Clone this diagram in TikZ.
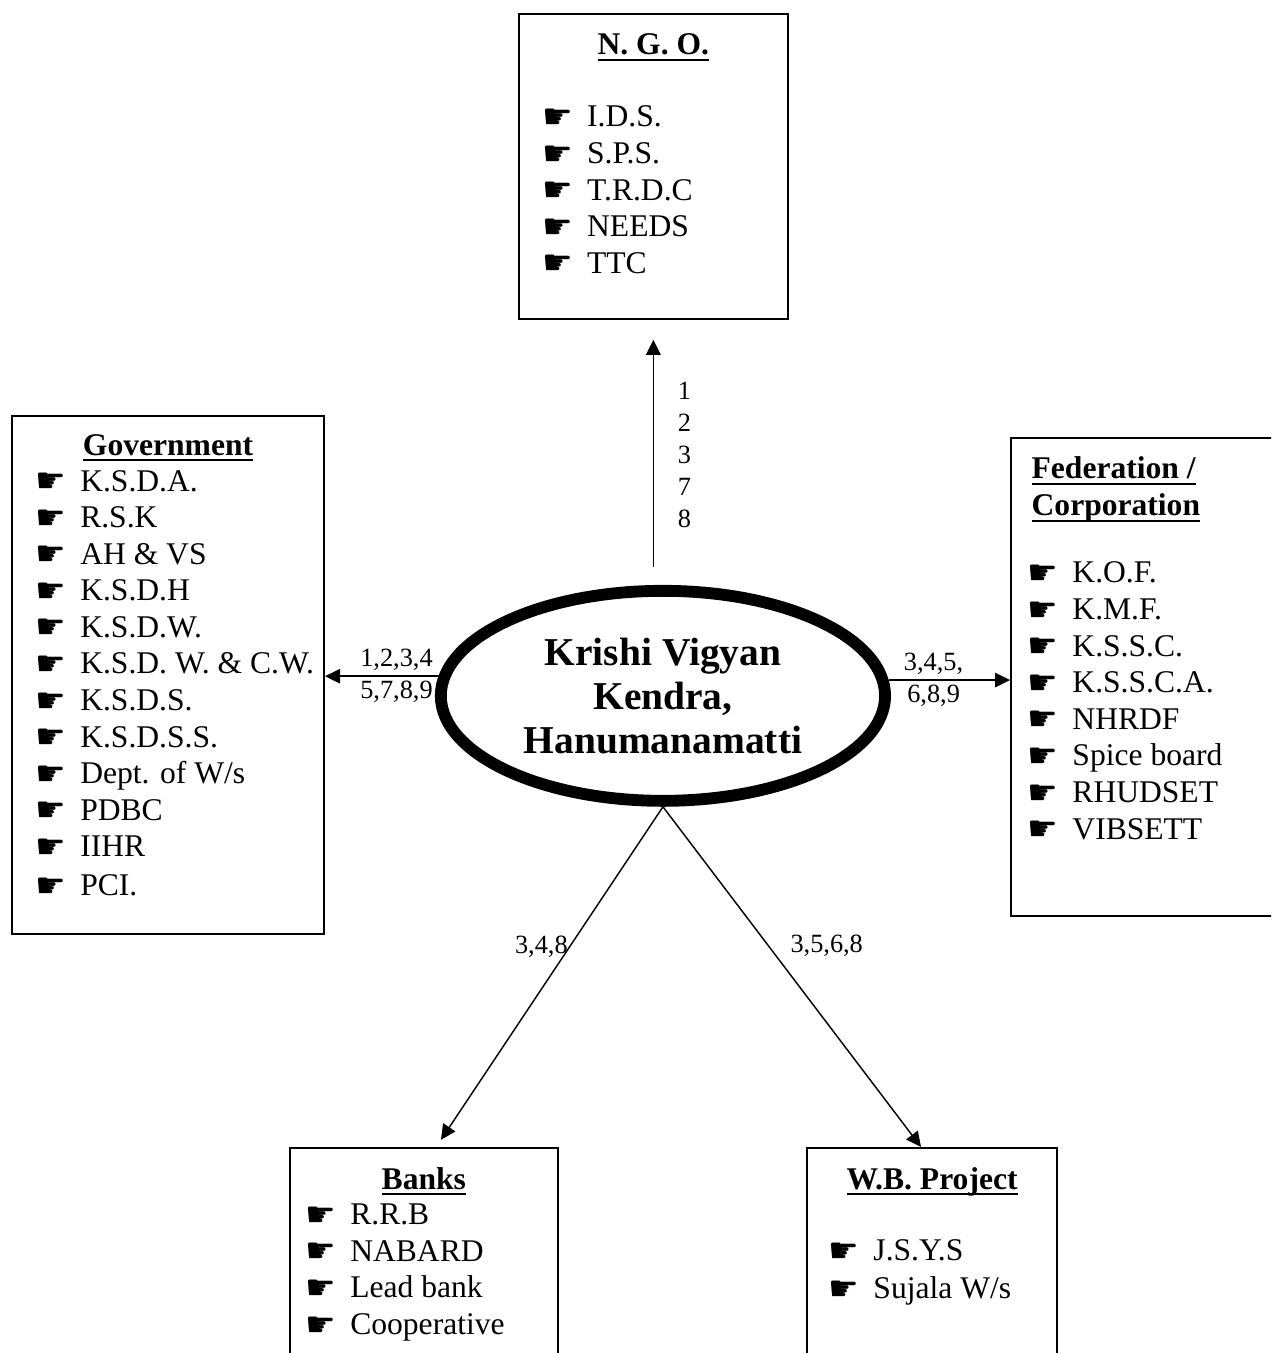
\documentclass[tikz,border=0pt]{standalone}
\usepackage{fontspec}
\setmainfont{Liberation Serif}
\newfontfamily\handfont{DejaVu Sans}
\usetikzlibrary{arrows.meta,positioning,shapes.geometric}

\newcommand{\hand}{\makebox[17pt][l]{\raisebox{-0.6pt}{\handfont\fontsize{13}{13}\selectfont\char"261B}}}
\newcommand{\undl}[1]{\setbox0\hbox{#1}\rlap{\rule[-2.3pt]{\wd0}{0.8pt}}\box0}

\tikzset{
  box/.style={draw, line width=0.7pt, inner sep=0pt, anchor=north west},
  item/.style={inner sep=0pt, anchor=base west, font=\fontsize{12}{13.9}\selectfont},
  head/.style={inner sep=0pt, anchor=base, font=\fontsize{12}{13.9}\selectfont\bfseries},
  nums/.style={inner sep=0pt, align=center, font=\fontsize{10}{12.2}\selectfont},
  hub/.style={ellipse, draw, line width=4.5pt, inner sep=0pt,
    minimum width=168.8pt, minimum height=79.8pt, align=center,
    font=\fontsize{15}{16.7}\selectfont\bfseries},
  link/.style={-{Triangle[length=5.7pt,width=5.5pt]}, line width=0.55pt},
}

\begin{document}
\begin{tikzpicture}[x=1pt,y=1pt,on grid,node distance=13.9pt]
   \useasboundingbox (0,0) rectangle (483,514.1);
   \clip (0,0) rectangle (483,514.1);

   % boxes
   \node[box, minimum width=102.2pt, minimum height=115.9pt] (ngo) at (196.8,509.2) {};
   \node[box, minimum width=118.6pt, minimum height=196.8pt] (gov) at (4.2,356.4) {};
   \node[box, minimum width=114pt, minimum height=181.6pt] (fed) at (383.8,348.1) {};
   \node[box, minimum width=101.8pt, minimum height=90pt] (banks) at (109.8,78.3) {};
   \node[box, minimum width=95pt, minimum height=90pt] (wb) at (306.3,78.3) {};
   \node[hub] (kvk) at (251.9,249.7) {Krishi Vigyan\\Kendra,\\Hanumanamatti};

   % N.G.O.
   \node[head] (ngohead) at ([yshift=-16pt]ngo.north) {\undl{N. G. O.}};
   \node[item] (n1) at ([xshift=9.1pt,yshift=-43.3pt]ngo.north west) {\hand I.D.S.};
   \node[below=of n1.base west, item] (n2) {\hand S.P.S.};
   \node[below=of n2.base west, item] (n3) {\hand T.R.D.C};
   \node[below=of n3.base west, item] (n4) {\hand NEEDS};
   \node[below=of n4.base west, item] (n5) {\hand TTC};

   % Government
   \node[head] (govhead) at ([yshift=-15.2pt]gov.north) {\undl{Government}};
   \node[item] (g1) at ([xshift=9.1pt,yshift=-28.9pt]gov.north west) {\hand K.S.D.A.};
   \node[below=of g1.base west, item] (g2) {\hand R.S.K};
   \node[below=of g2.base west, item] (g3) {\hand AH \& VS};
   \node[below=of g3.base west, item] (g4) {\hand K.S.D.H};
   \node[below=of g4.base west, item] (g5) {\hand K.S.D.W.};
   \node[below=of g5.base west, item] (g6) {\hand K.S.D. W. \& C.W.};
   \node[below=of g6.base west, item] (g7) {\hand K.S.D.S.};
   \node[below=of g7.base west, item] (g8) {\hand K.S.D.S.S.};
   \node[below=of g8.base west, item] (g9) {\hand Dept. of W/s};
   \node[below=of g9.base west, item] (g10) {\hand PDBC};
   \node[below=of g10.base west, item] (g11) {\hand IIHR};
   \node[below=14.8pt of g11.base west, item] (g12) {\hand PCI.};

   % Federation / Corporation
   \node[head, anchor=base west] (fedhead) at ([xshift=8pt,yshift=-16pt]fed.north west) {\undl{Federation /}};
   \node[below=of fedhead.base west, head, anchor=base west] (corphead) {\undl{Corporation}};
   \node[item] (f1) at ([xshift=6.5pt,yshift=-55.5pt]fed.north west) {\hand K.O.F.};
   \node[below=of f1.base west, item] (f2) {\hand K.M.F.};
   \node[below=of f2.base west, item] (f3) {\hand K.S.S.C.};
   \node[below=of f3.base west, item] (f4) {\hand K.S.S.C.A.};
   \node[below=of f4.base west, item] (f5) {\hand NHRDF};
   \node[below=of f5.base west, item] (f6) {\hand Spice board};
   \node[below=of f6.base west, item] (f7) {\hand RHUDSET};
   \node[below=of f7.base west, item] (f8) {\hand VIBSETT};

   % Banks
   \node[head] (bankhead) at ([yshift=-16pt]banks.north) {\undl{Banks}};
   \node[item] (b1) at ([xshift=6.1pt,yshift=-29.6pt]banks.north west) {\hand R.R.B};
   \node[below=of b1.base west, item] (b2) {\hand NABARD};
   \node[below=of b2.base west, item] (b3) {\hand Lead bank};
   \node[below=of b3.base west, item] (b4) {\hand Cooperative};

   % W.B. Project
   \node[head] (wbhead) at ([yshift=-16pt]wb.north) {\undl{W.B. Project}};
   \node[item] (w1) at ([xshift=8.4pt,yshift=-43.3pt]wb.north west) {\hand J.S.Y.S};
   \node[below=14.4pt of w1.base west, item] (w2) {\hand Sujala W/s};

   % links
   \draw[link, shorten <=6.8pt, shorten >=7.6pt] (kvk.north -| ngo.south) -- (ngo.south)
      node[pos=.49, right=9pt, nums] {1\\2\\3\\7\\8};
   \draw[link] (kvk.175.5) -- (kvk.175.5 -| gov.east)
      node[pos=.37, nums] {1,2,3,4\\5,7,8,9};
   \draw[link] (kvk.4) -- (kvk.4 -| fed.west)
      node[pos=.37, nums] {3,4,5,\\6,8,9};
   \draw[link] (kvk.south) -- ([xshift=6.5pt,yshift=2.7pt]banks.north)
      node[pos=.42, left=0.5pt, nums] {3,4,8};
   \draw[link] (kvk.south) -- ([xshift=-4.2pt]wb.north)
      node[pos=.41, right=8pt, nums] {3,5,6,8};
\end{tikzpicture}
\end{document}
